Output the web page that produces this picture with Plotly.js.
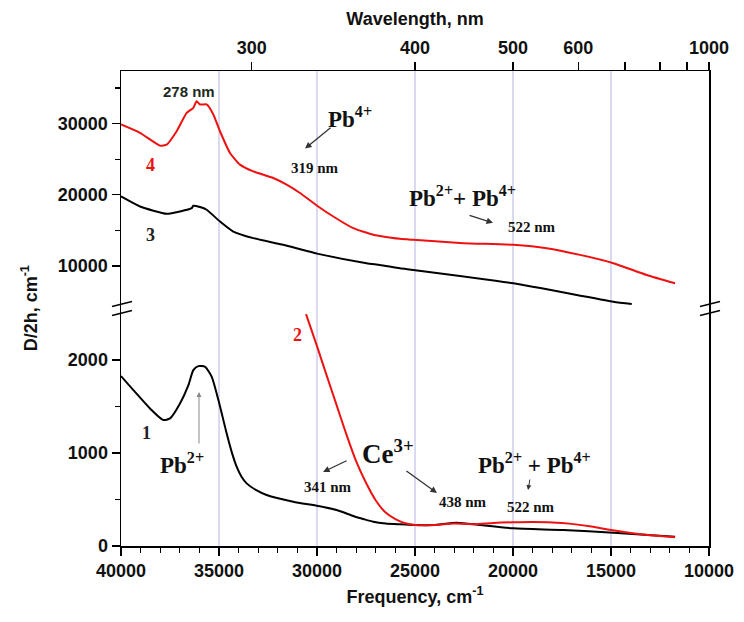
<!DOCTYPE html>
<html>
<head>
<meta charset="utf-8">
<script src="https://cdn.plot.ly/plotly-3.0.1.min.js"></script>
<style>html,body{margin:0;padding:0;background:#fff;}#chart{width:744px;height:622px;}</style>
</head>
<body>
<div id="chart"></div>
<script>
// Curve 4 (red, upper panel)
const freq4 = [40000,39030,38010,37670,37160,36650,36310,36140,35970,35630,35290,34950,34440,33930,33250,32230,31550,30870,29940,29170,28150,27130,26790,25770,25090,22530,19980,18280,16580,14880,13180,11730];
const val4  = [29860,28690,26900,27040,28920,31500,32210,33140,32680,32680,31270,28920,25870,24230,23280,22350,21410,20240,18350,16940,15300,14370,14200,13800,13660,13200,12960,12490,11550,10380,8730,7560];
// Curve 3 (black, upper panel)
const freq3 = [40000,39030,37670,36990,36390,36310,35970,35630,34950,34270,33250,31720,29940,27470,26790,25770,25090,19980,14880,13940];
const val3  = [19760,18350,17320,17650,18120,18450,18270,17890,16240,14830,13900,12960,11690,10380,10140,9670,9440,7560,4970,4650];
// Curve 1 (black, lower panel)
const freq1 = [40000,39370,38520,37840,37500,36990,36560,36310,36050,35710,35370,35030,34610,34350,34100,33850,33590,33100,32570,31210,29940,29000,28150,27600,27130,26500,25770,25000,24060,22870,21680,19980,17430,14880,11730];
const val1  = [1828,1677,1480,1355,1373,1534,1731,1892,1935,1928,1820,1570,1212,1010,853,745,674,600,548,476,430,387,323,288,261,242,233,226,226,251,226,190,172,143,100];
// Curve 2 (red, lower panel)
const freq2 = [30560,30000,29500,29000,28500,28000,27500,27000,26500,26000,25500,25000,24000,23000,22000,21000,20000,19000,18000,17000,16000,15000,14000,13000,11730];
const val2  = [2495,2150,1830,1515,1200,910,680,490,360,290,245,226,226,242,235,248,255,258,254,238,210,172,140,115,94];

const freqTicks = [40000,35000,30000,25000,20000,15000,10000];
const gridFreqs = [35000,30000,25000,20000,15000];
const wlTicks = [300,400,500,600,700,800,900,1000];
const wlLabels = ['300','400','500','600','','','','1000'];
const lowTicks = [0,1000,2000];
const upTicks = [10000,20000,30000];

const sans = 'Liberation Sans, Arial, sans-serif';
const serif = 'Liberation Serif, Times New Roman, serif';
const tickFont = {family: sans, size: 18, color: '#111', weight: 'bold'};
const red = '#ee1111';

const traces = [
  {x: freq1, y: val1, xaxis: 'x', yaxis: 'y', mode: 'lines', line: {color: '#000', width: 2, shape: 'spline', smoothing: 0.6}},
  {x: freq2, y: val2, xaxis: 'x', yaxis: 'y', mode: 'lines', line: {color: red, width: 2, shape: 'spline', smoothing: 0.8}},
  {x: freq3, y: val3, xaxis: 'x2', yaxis: 'y2', mode: 'lines', line: {color: '#000', width: 2, shape: 'spline', smoothing: 0.5}},
  {x: freq4, y: val4, xaxis: 'x2', yaxis: 'y2', mode: 'lines', line: {color: red, width: 2, shape: 'spline', smoothing: 0.5}}
];

const axLine = {showline: true, linecolor: '#000', linewidth: 1.5, zeroline: false, showgrid: false, ticks: 'outside', tickcolor: '#000', tickwidth: 1.5, ticklen: 8, tickfont: tickFont, tickformat: 'd'};

const shapes = gridFreqs.map(f => ({type: 'line', xref: 'x', yref: 'paper', x0: f, x1: f, y0: 0, y1: 1, line: {color: '#b4b4e4', width: 1}, layer: 'below'}));
// axis break marks
[0, 1].forEach(px => {
  [[2, 7], [-7, -2]].forEach(([a, b]) => {
    shapes.push({type: 'line', xref: 'paper', yref: 'paper', xsizemode: 'pixel', ysizemode: 'pixel', xanchor: px, yanchor: 0.5,
      x0: -9, x1: 11, y0: a, y1: b, line: {color: '#000', width: 1.5}});
  });
});

function lbl(x, y, yref, text, size, color, family) {
  return {x: x, y: y, xref: 'x', yref: yref, text: text, showarrow: false,
    font: {family: family || serif, size: size, color: color || '#111', weight: 'bold'}};
}
function arr(x, y, yref, ax, ay, color, w) {
  return {x: x, y: y, xref: 'x', yref: yref, text: '', showarrow: true, ax: ax, ay: ay,
    arrowhead: 2, arrowsize: 1, arrowwidth: w || 1.3, arrowcolor: color || '#333'};
}

const annotations = [
  lbl(36530, 34510, 'y2', '278 nm', 15, '#1c2a1c', sans),
  lbl(38520, 24225, 'y2', '4', 18, red),
  lbl(38520, 14366, 'y2', '3', 18, '#222'),
  lbl(28320, 30845, 'y2', 'Pb<sup>4+</sup>', 23),
  arr(30610, 26480, 'y2', 27, -22),
  lbl(30100, 23800, 'y2', '319 nm', 15),
  lbl(22600, 19718, 'y2', 'Pb<sup>2+</sup>+ Pb<sup>4+</sup>', 23),
  arr(21020, 16056, 'y2', -25, -8),
  lbl(19030, 15493, 'y2', '522 nm', 15),
  lbl(31020, 2269, 'y', '2', 18, red),
  lbl(38720, 1215, 'y', '1', 18, '#222'),
  lbl(36890, 892, 'y', 'Pb<sup>2+</sup>', 23),
  arr(36020, 1656, 'y', 0, 53, '#888', 1),
  lbl(26380, 1011, 'y', 'Ce<sup>3+</sup>', 27),
  arr(29690, 796, 'y', 25, -12),
  lbl(29440, 634, 'y', '341 nm', 15),
  arr(23880, 570, 'y', -32, -23),
  lbl(22550, 473, 'y', '438 nm', 15),
  lbl(18880, 892, 'y', 'Pb<sup>2+</sup> + Pb<sup>4+</sup>', 23),
  arr(19230, 602, 'y', 2, -12, '#333', 1),
  lbl(19080, 419, 'y', '522 nm', 15)
];

const layout = {
  width: 744, height: 622,
  margin: {l: 121, r: 35, t: 71, b: 76},
  paper_bgcolor: '#fff', plot_bgcolor: 'rgba(0,0,0,0)',
  showlegend: false,
  xaxis: Object.assign({}, axLine, {
    domain: [0, 1], anchor: 'y', range: [40000, 10000], tickvals: freqTicks,
    minor: {dtick: 1000, ticks: 'outside', ticklen: 5, tickcolor: '#000', tickwidth: 1.2},
    title: {text: 'Frequency, cm<sup>-1</sup>', font: {family: sans, size: 18, color: '#111', weight: 'bold'}, standoff: 10}
  }),
  xaxis2: Object.assign({}, axLine, {
    domain: [0, 1], anchor: 'y2', side: 'top', range: [40000, 10000],
    tickvals: wlTicks.map(w => 1e7 / w), ticktext: wlLabels,
    title: {text: 'Wavelength, nm', font: {family: sans, size: 18, color: '#111', weight: 'bold'}, standoff: 8}
  }),
  yaxis: Object.assign({}, axLine, {
    domain: [0, 0.501], anchor: 'x', range: [0, 2560], tickvals: lowTicks, mirror: true,
    minor: {tickvals: [500, 1500], ticks: 'outside', ticklen: 5, tickcolor: '#000', tickwidth: 1.2}
  }),
  yaxis2: Object.assign({}, axLine, {
    domain: [0.501, 1], anchor: 'x2', range: [4085, 37380], tickvals: upTicks, mirror: true,
    minor: {tickvals: [15000, 25000, 35000], ticks: 'outside', ticklen: 5, tickcolor: '#000', tickwidth: 1.2}
  }),
  shapes: shapes,
  annotations: annotations.concat([
    {xref: 'paper', yref: 'paper', x: -0.155, y: 0.5, xanchor: 'center', yanchor: 'middle', text: 'D/2h, cm<sup>-1</sup>', textangle: -90, showarrow: false,
     font: {family: sans, size: 18, color: '#111', weight: 'bold'}}
  ])
};

Plotly.newPlot('chart', traces, layout, {staticPlot: true, displayModeBar: false});
</script>
</body>
</html>
